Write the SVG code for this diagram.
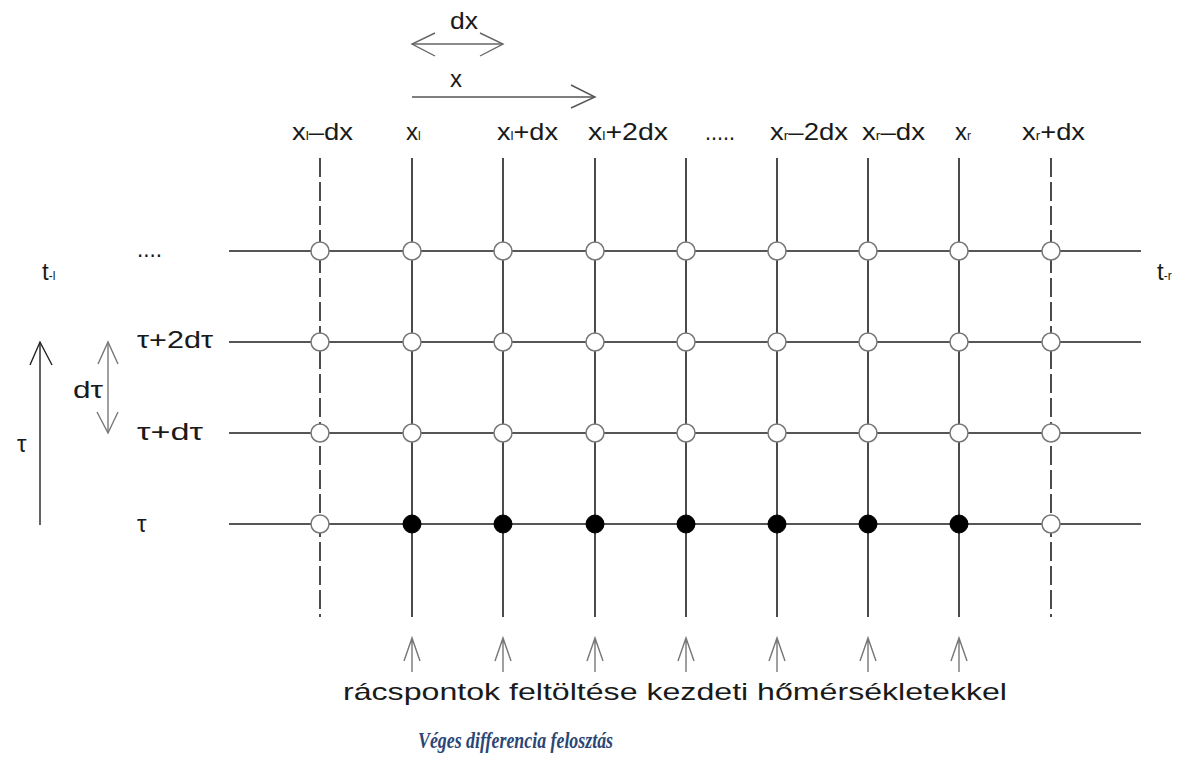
<svg xmlns="http://www.w3.org/2000/svg" width="1192" height="758" viewBox="0 0 1192 758">
<style>
.t{font-family:"Liberation Sans","DejaVu Sans",sans-serif;font-size:24px;fill:#1a1a1a}
.s{font-size:12px}
.g{stroke:#1e1e1e;stroke-width:1.6;fill:none}
.gd{stroke:#1e1e1e;stroke-width:1.6;fill:none;stroke-dasharray:19 5}
.ar{stroke:#555;stroke-width:1.4;fill:none}
.open{fill:#fff;stroke:#777;stroke-width:1.5}
.full{fill:#000;stroke:#000;stroke-width:1}
.cap{font-family:"Liberation Serif",serif;font-size:24px;font-weight:bold;font-style:italic;fill:#2b4674}
</style>
<rect width="1192" height="758" fill="#fff"/>
<g id="connectors">
<g id="grid-vertical">
<line class="gd" x1="320" y1="158" x2="320" y2="617"/>
<line class="g" x1="412" y1="158" x2="412" y2="617"/>
<line class="g" x1="503" y1="158" x2="503" y2="617"/>
<line class="g" x1="595" y1="158" x2="595" y2="617"/>
<line class="g" x1="686" y1="158" x2="686" y2="617"/>
<line class="g" x1="777" y1="158" x2="777" y2="617"/>
<line class="g" x1="868" y1="158" x2="868" y2="617"/>
<line class="g" x1="959" y1="158" x2="959" y2="617"/>
<line class="gd" x1="1051" y1="158" x2="1051" y2="617"/>
</g>
<g id="grid-horizontal">
<line class="g" x1="229" y1="251" x2="1141" y2="251"/>
<line class="g" x1="229" y1="342" x2="1141" y2="342"/>
<line class="g" x1="229" y1="433" x2="1141" y2="433"/>
<line class="g" x1="229" y1="524" x2="1141" y2="524"/>
</g>
<g id="dx-arrow" class="ar" style="stroke:#666">
<line x1="412" y1="44" x2="503" y2="44"/>
<polyline points="435,33 412,44 435,56"/>
<polyline points="480,33 503,44 480,56"/>
</g>
<g id="x-arrow" class="ar">
<line x1="412" y1="97" x2="595" y2="97"/>
<polyline points="571,85 595,97 571,108"/>
</g>
<g id="tau-arrow" class="ar" style="stroke:#222">
<line x1="40" y1="342" x2="40" y2="525"/>
<polyline points="30,365 40,342 52,365"/>
</g>
<g id="dtau-arrow" class="ar" style="stroke:#777">
<line x1="108" y1="342" x2="108" y2="433"/>
<polyline points="98,364 108,342 118,364"/>
<polyline points="97,412 108,433 118,412"/>
</g>
<g id="init-arrows" class="ar" style="stroke:#777">
<path d="M412 672V638M404 661L412 638L420 661"/>
<path d="M503 672V638M495 661L503 638L511 661"/>
<path d="M595 672V638M587 661L595 638L603 661"/>
<path d="M686 672V638M678 661L686 638L694 661"/>
<path d="M777 672V638M769 661L777 638L785 661"/>
<path d="M868 672V638M860 661L868 638L876 661"/>
<path d="M959 672V638M951 661L959 638L967 661"/>
</g>
</g>
<g id="nodes">
<g id="row-top">
<circle class="open" cx="320" cy="251" r="9"/><circle class="open" cx="412" cy="251" r="9"/><circle class="open" cx="503" cy="251" r="9"/><circle class="open" cx="595" cy="251" r="9"/><circle class="open" cx="686" cy="251" r="9"/><circle class="open" cx="777" cy="251" r="9"/><circle class="open" cx="868" cy="251" r="9"/><circle class="open" cx="959" cy="251" r="9"/><circle class="open" cx="1051" cy="251" r="9"/>
</g>
<g id="row-2dtau">
<circle class="open" cx="320" cy="342" r="9"/><circle class="open" cx="412" cy="342" r="9"/><circle class="open" cx="503" cy="342" r="9"/><circle class="open" cx="595" cy="342" r="9"/><circle class="open" cx="686" cy="342" r="9"/><circle class="open" cx="777" cy="342" r="9"/><circle class="open" cx="868" cy="342" r="9"/><circle class="open" cx="959" cy="342" r="9"/><circle class="open" cx="1051" cy="342" r="9"/>
</g>
<g id="row-dtau">
<circle class="open" cx="320" cy="433" r="9"/><circle class="open" cx="412" cy="433" r="9"/><circle class="open" cx="503" cy="433" r="9"/><circle class="open" cx="595" cy="433" r="9"/><circle class="open" cx="686" cy="433" r="9"/><circle class="open" cx="777" cy="433" r="9"/><circle class="open" cx="868" cy="433" r="9"/><circle class="open" cx="959" cy="433" r="9"/><circle class="open" cx="1051" cy="433" r="9"/>
</g>
<g id="row-tau">
<circle class="open" cx="320" cy="524" r="9"/><circle class="full" cx="412" cy="524" r="9"/><circle class="full" cx="503" cy="524" r="9"/><circle class="full" cx="595" cy="524" r="9"/><circle class="full" cx="686" cy="524" r="9"/><circle class="full" cx="777" cy="524" r="9"/><circle class="full" cx="868" cy="524" r="9"/><circle class="full" cx="959" cy="524" r="9"/><circle class="open" cx="1051" cy="524" r="9"/>
</g>
</g>
<g id="labels">
<text class="t" x="450" y="29" textLength="28" lengthAdjust="spacingAndGlyphs">dx</text>
<text class="t" x="450" y="87">x</text>
<text class="t" x="292" y="140" textLength="61" lengthAdjust="spacingAndGlyphs">x<tspan class="s">l</tspan>–dx</text>
<text class="t" x="406" y="140">x<tspan class="s">l</tspan></text>
<text class="t" x="497" y="140" textLength="61" lengthAdjust="spacingAndGlyphs">x<tspan class="s">l</tspan>+dx</text>
<text class="t" x="588" y="140" textLength="80" lengthAdjust="spacingAndGlyphs">x<tspan class="s">l</tspan>+2dx</text>
<text class="t" x="705" y="140" textLength="30" lengthAdjust="spacingAndGlyphs">.....</text>
<text class="t" x="770" y="140" textLength="78" lengthAdjust="spacingAndGlyphs">x<tspan class="s">r</tspan>–2dx</text>
<text class="t" x="862" y="140" textLength="63" lengthAdjust="spacingAndGlyphs">x<tspan class="s">r</tspan>–dx</text>
<text class="t" x="955" y="140">x<tspan class="s">r</tspan></text>
<text class="t" x="1022" y="140" textLength="63" lengthAdjust="spacingAndGlyphs">x<tspan class="s">r</tspan>+dx</text>
<text class="t" x="42" y="280">t<tspan class="s">-l</tspan></text>
<text class="t" x="1157" y="280">t<tspan class="s">-r</tspan></text>
<text class="t" x="137" y="257" textLength="25" lengthAdjust="spacingAndGlyphs">....</text>
<text class="t" x="137" y="348" textLength="76" lengthAdjust="spacingAndGlyphs">τ+2dτ</text>
<text class="t" x="137" y="440" textLength="66" lengthAdjust="spacingAndGlyphs">τ+dτ</text>
<text class="t" x="137" y="532">τ</text>
<text class="t" x="73" y="398" textLength="30" lengthAdjust="spacingAndGlyphs">dτ</text>
<text class="t" x="17" y="452">τ</text>
<text class="t" x="343" y="700" textLength="664" lengthAdjust="spacingAndGlyphs">rácspontok feltöltése kezdeti hőmérsékletekkel</text>
<text class="cap" x="418" y="748" textLength="195" lengthAdjust="spacingAndGlyphs">Véges differencia felosztás</text>
</g>
</svg>
